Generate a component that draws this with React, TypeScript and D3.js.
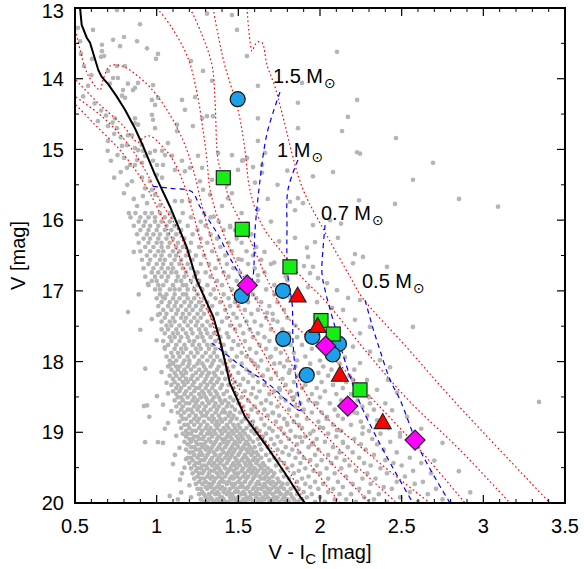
import React from "react";
import * as d3 from "d3";

// ---------- axes ----------
const xDomain = [0.5, 3.5];
const yDomain = [13, 20];
const xMajor = [0.5, 1, 1.5, 2, 2.5, 3, 3.5];
const xTickLabels = ["0.5", "1", "1.5", "2", "2.5", "3", "3.5"];
const yMajor = [13, 14, 15, 16, 17, 18, 19, 20];
const yTickLabels = ["13", "14", "15", "16", "17", "18", "19", "20"];

// ---------- field stars (gray) ----------
const upperStars = [
  [0.757,13.03],[0.898,13.23],[0.610,13.31],[0.518,13.28],[0.531,13.47],[0.733,13.45],[0.800,13.41],[0.880,13.47],[0.665,13.52],[0.776,13.54],[0.941,13.57],[1.008,13.65],[0.996,13.72],[0.665,13.61],[0.678,13.68],[0.659,13.69],[0.604,13.72],[0.537,13.65],[1.308,13.08],[1.461,13.10],[1.492,13.31],[1.553,13.68],[1.210,13.75],[0.757,13.82],[0.806,13.82],[0.555,13.82],[0.702,13.89],[0.763,13.99],[0.824,14.07],[0.867,14.13],[0.886,14.06],[0.855,14.16],[0.794,14.16],[0.788,14.24],[0.806,14.27],[0.733,13.99],[0.714,14.07],[0.971,14.30],[0.990,14.37],[1.155,14.30],[1.235,14.26],[1.008,14.27],[0.978,14.09],[1.284,13.89],[1.339,14.03],[1.278,14.56],[1.308,14.53],[1.345,14.53],[1.620,14.10],[1.620,14.56],[0.745,14.56],[0.702,14.67],[0.757,14.70],[0.867,14.56],[0.867,14.63],[0.886,14.65],[0.824,14.80],[0.849,14.80],[0.971,14.51],[0.978,14.58],[0.990,14.70],[0.702,14.88],[0.788,14.95],[0.818,14.94],[0.867,14.98],[0.886,15.01],[0.910,14.94],[0.916,15.02],[0.929,15.09],[0.959,15.05],[0.990,15.02],[1.033,15.02],[1.051,15.08],[1.039,15.22],[1.002,15.22],[0.978,15.16],[0.910,15.19],[0.880,15.15],[0.867,15.22],[0.837,15.22],[0.818,15.26],[0.849,15.45],[0.910,15.40],[0.959,15.45],[0.929,15.55],[0.971,15.57],[0.990,15.64],[0.916,15.66],[0.941,15.76],[1.020,15.79],[1.002,15.36],[1.033,15.40],[1.125,14.74],[1.125,14.65],[1.173,14.44],[1.222,14.67],[1.069,14.91],[1.094,15.09],[1.155,15.16],[1.112,15.29],[1.173,15.31],[1.204,15.26],[1.204,15.73],[1.155,15.73],[1.112,15.73],[1.265,15.45],[1.284,15.57],[1.327,15.64],[1.437,15.69],[1.461,15.62],[1.523,15.16],[1.553,15.12],[1.620,14.88],[1.663,15.05],[1.645,15.22],[1.602,15.47],[1.253,15.09],[1.278,15.26],[1.376,15.05],[1.461,15.08],[1.529,15.15],[1.590,15.25],[1.645,15.33],[1.498,15.29],[1.339,15.43],[1.431,15.50],
  [0.62,14.35],[0.66,14.45],[0.69,14.52],[0.64,14.60],[0.73,14.62],[0.78,14.83],[0.74,14.78],[0.70,15.02],[0.76,15.08],[0.80,15.12],[0.72,15.16],[0.78,15.32],[0.74,15.40],[0.82,15.50],[0.80,15.62],[0.86,15.70],[0.88,15.80],[0.58,14.10],[0.55,14.25],[0.60,13.95]
];

const rightStars = [
  [2.104,13.62],[1.890,14.06],[1.865,14.34],[2.227,14.30],[2.171,14.54],[2.135,14.74],[2.465,14.84],[1.865,14.70],[2.227,15.04],[2.245,15.06],[2.692,15.19],[1.957,15.38],[2.080,15.32],[2.569,15.43],[2.851,15.70],[3.090,15.81],[2.459,15.77],[2.239,15.72],[1.816,15.74],[1.865,15.69],[1.896,15.76],[1.847,15.86],[1.957,16.07],[2.061,16.00],[2.129,16.05],[1.969,16.31],[2.110,16.25],[1.847,16.25],[1.920,16.39],[1.927,16.52],[2.214,16.48],[2.263,16.52],[2.202,16.61],[2.410,16.66],[1.957,16.66],[1.902,16.65],
  [1.939,16.75],[1.988,16.82],[2.043,16.89],[1.927,16.95],[2.104,16.99],[2.172,17.10],[2.245,17.13],[1.982,17.16],[2.074,17.24],[2.141,17.27],[2.214,17.41],[2.245,17.60],[2.306,17.51],[2.202,17.79],[2.306,17.86],[2.367,17.98],[2.245,18.02],[2.153,17.94],[2.429,18.08],[2.416,18.26],[2.288,18.26],[2.202,18.26],[2.349,18.40],[2.472,18.44],[2.306,18.59],[2.441,18.69],[2.533,18.78],[2.227,18.73],[2.349,18.83],[2.490,19.01],[2.263,18.93],[1.676,17.31],[1.712,17.41],[1.694,17.94],[1.755,18.02],[1.816,18.12],[1.755,18.40],[1.835,18.54],[1.896,18.69],[1.982,18.59],[2.043,18.78],[2.000,18.93],[2.104,18.97],[2.141,19.15],[1.712,18.73],[1.798,18.87],[1.878,19.07],[1.957,19.15],[3.341,18.57],[2.569,17.51],
  [1.40,15.80],[1.52,15.90],[1.62,15.85],[1.70,16.02],[1.45,16.10],[1.58,16.20],[1.75,16.30],[1.66,16.45],[1.50,16.55],[1.72,16.60],[1.62,16.78],[1.80,16.85],[1.55,16.05],[1.35,15.95],[1.68,15.70],[1.74,15.50],[1.80,15.30],
  [2.85,19.55],[2.92,19.85],[2.75,19.15],[2.62,18.95],[2.70,19.40]
];

const leftStars = [
  [0.825,17.30],[0.947,16.90],[1.002,18.49],[0.922,18.63],[0.941,18.62],[0.955,18.78],[1.039,18.61],[0.929,19.14],[1.008,19.14],[1.039,19.15],[1.069,18.87],[1.039,17.09],[1.008,17.34],[1.100,18.02],[1.112,19.32],[1.155,19.58],[1.143,19.67],[1.08,19.90],[1.15,19.85],[1.20,19.75],[1.06,18.30],[1.05,17.80],[0.90,17.55],[0.93,18.10],[0.86,16.45],[0.89,17.05],
  [1.05,18.95],[1.10,19.45],[1.12,19.05],[1.07,18.45],[1.03,18.15],[1.00,17.70],[0.97,17.40],[1.13,19.95],[1.17,19.50],[1.09,18.70],[1.14,19.22],[1.21,19.92],[1.18,19.38],[1.08,18.05]
];

// rows of the dense cluster sequence: "V | colours"
const bandRows = `
19.985|1.29 1.31 1.35 1.38 1.42 1.44 1.49 1.51 1.54 1.59 1.62 1.64 1.69 1.71 1.75 1.79 1.81 1.86 1.97 2.03 2.22 2.41 2.60
19.95|1.27 1.32 1.34 1.37 1.41 1.46 1.48 1.53 1.56 1.58 1.63 1.66 1.70 1.73 1.77 1.80 1.84 1.88 2.09 2.16 2.33 2.75
19.92|1.30 1.33 1.39 1.40 1.45 1.47 1.50 1.55 1.57 1.61 1.65 1.68 1.72 1.74 1.78 1.83 1.92 2.00 2.27 2.49
19.875|1.26 1.29 1.32 1.36 1.38 1.43 1.46 1.52 1.54 1.58 1.60 1.63 1.67 1.71 1.76 1.79 1.82 1.86 1.95 2.12 2.19 2.36 2.66
19.845|1.28 1.34 1.37 1.41 1.44 1.48 1.50 1.53 1.57 1.61 1.66 1.69 1.73 1.75 1.80 1.90 2.05 2.30 2.55
19.80|1.25 1.27 1.31 1.35 1.39 1.42 1.45 1.49 1.55 1.59 1.62 1.64 1.68 1.70 1.74 1.78 1.82 1.87 1.99 2.08 2.24 2.44 2.71
19.775|1.30 1.33 1.37 1.40 1.47 1.51 1.53 1.56 1.60 1.65 1.67 1.72 1.76 1.84 1.94 2.14 2.39
19.73|1.24 1.28 1.32 1.34 1.38 1.43 1.46 1.48 1.52 1.57 1.61 1.63 1.66 1.70 1.73 1.77 1.80 1.91 2.02 2.20 2.31 2.58
19.70|1.26 1.30 1.35 1.39 1.41 1.44 1.50 1.54 1.58 1.62 1.68 1.71 1.75 1.86 1.97 2.11 2.47 2.63
19.655|1.23 1.27 1.29 1.33 1.36 1.40 1.45 1.47 1.51 1.55 1.59 1.64 1.66 1.69 1.74 1.81 1.89 2.05 2.26 2.34
19.625|1.25 1.31 1.34 1.38 1.42 1.46 1.49 1.53 1.56 1.60 1.63 1.67 1.71 1.78 1.93 2.16 2.52
19.58|1.22 1.26 1.28 1.32 1.37 1.40 1.43 1.48 1.50 1.54 1.58 1.61 1.65 1.68 1.72 1.84 2.00 2.09 2.29 2.41 2.68
19.545|1.24 1.29 1.33 1.35 1.39 1.44 1.47 1.52 1.56 1.59 1.62 1.66 1.70 1.76 1.87 1.96 2.22 2.57
19.51|1.21 1.25 1.27 1.31 1.36 1.38 1.42 1.45 1.49 1.53 1.57 1.60 1.64 1.68 1.80 1.91 2.04 2.13 2.37
19.47|1.23 1.28 1.30 1.34 1.37 1.41 1.46 1.48 1.51 1.55 1.58 1.63 1.66 1.73 1.83 1.98 2.18 2.31 2.50
19.435|1.20 1.24 1.26 1.32 1.35 1.39 1.43 1.47 1.50 1.54 1.57 1.61 1.65 1.78 1.88 2.07 2.27 2.45 2.62
19.395|1.22 1.27 1.29 1.33 1.37 1.40 1.44 1.49 1.52 1.56 1.59 1.62 1.69 1.75 1.94 2.01 2.15 2.40
19.36|1.19 1.21 1.25 1.30 1.34 1.38 1.42 1.45 1.48 1.53 1.55 1.60 1.64 1.72 1.85 1.90 2.10 2.24 2.55
19.32|1.23 1.26 1.28 1.31 1.36 1.39 1.43 1.46 1.50 1.54 1.58 1.62 1.67 1.81 1.97 2.05 2.33
19.285|1.20 1.22 1.27 1.32 1.35 1.41 1.44 1.47 1.51 1.56 1.59 1.61 1.70 1.77 1.87 2.12 2.20 2.47
19.245|1.18 1.24 1.26 1.30 1.33 1.37 1.40 1.45 1.48 1.52 1.55 1.58 1.64 1.74 1.83 1.99 2.28 2.39
19.21|1.21 1.23 1.28 1.31 1.34 1.38 1.42 1.46 1.50 1.53 1.57 1.60 1.68 1.79 1.93 2.08 2.17 2.60
19.17|1.19 1.25 1.27 1.29 1.35 1.39 1.43 1.47 1.49 1.54 1.56 1.63 1.72 1.86 1.95 2.25 2.35
19.135|1.17 1.21 1.24 1.30 1.33 1.36 1.41 1.44 1.48 1.51 1.55 1.59 1.66 1.76 1.89 2.03 2.14 2.43
19.095|1.20 1.22 1.26 1.28 1.32 1.37 1.40 1.42 1.46 1.50 1.53 1.57 1.62 1.70 1.81 1.98 2.21 2.32
19.06|1.18 1.23 1.25 1.29 1.34 1.38 1.43 1.45 1.49 1.52 1.56 1.65 1.74 1.85 1.91 2.10 2.49
19.02|1.16 1.19 1.21 1.27 1.31 1.33 1.36 1.40 1.44 1.47 1.51 1.54 1.60 1.67 1.78 1.94 2.05 2.26 2.37
18.98|1.18 1.22 1.24 1.28 1.32 1.35 1.39 1.42 1.46 1.49 1.53 1.58 1.63 1.71 1.82 1.96 2.13 2.30
18.94|1.15 1.20 1.26 1.30 1.33 1.37 1.41 1.44 1.48 1.51 1.55 1.61 1.69 1.76 1.89 2.02 2.42
18.895|1.17 1.19 1.23 1.27 1.31 1.36 1.38 1.43 1.47 1.50 1.57 1.66 1.80 1.87 2.08 2.19 2.35
18.85|1.14 1.21 1.25 1.29 1.34 1.37 1.40 1.45 1.52 1.59 1.73 1.84 1.99 2.25
18.81|1.16 1.18 1.23 1.26 1.32 1.35 1.39 1.42 1.46 1.49 1.54 1.64 1.78 1.92 2.04 2.14 2.38
18.765|1.15 1.20 1.24 1.28 1.30 1.34 1.38 1.44 1.47 1.56 1.68 1.75 1.86 2.11 2.29
18.72|1.13 1.17 1.22 1.27 1.31 1.36 1.40 1.42 1.45 1.51 1.62 1.71 1.95 2.01 2.21
18.68|1.15 1.19 1.21 1.25 1.29 1.33 1.37 1.41 1.48 1.58 1.66 1.81 1.90 2.09 2.33
18.635|1.12 1.16 1.23 1.26 1.30 1.35 1.38 1.43 1.46 1.53 1.60 1.74 1.85 2.16 2.26
18.59|1.14 1.18 1.20 1.24 1.28 1.32 1.36 1.40 1.44 1.50 1.64 1.70 1.88 1.97 2.06 2.40
18.55|1.11 1.16 1.22 1.25 1.31 1.34 1.39 1.42 1.47 1.56 1.67 1.79 1.93 2.13 2.23
18.505|1.13 1.15 1.19 1.23 1.27 1.30 1.35 1.38 1.45 1.52 1.61 1.76 1.84 2.00 2.30
18.46|1.12 1.17 1.21 1.26 1.29 1.33 1.37 1.41 1.49 1.58 1.69 1.86 1.95 2.10 2.19
18.42|1.10 1.14 1.18 1.23 1.28 1.32 1.36 1.43 1.54 1.63 1.72 1.82 2.03 2.27
18.375|1.12 1.15 1.20 1.24 1.26 1.30 1.34 1.39 1.47 1.59 1.75 1.89 1.98 2.14
18.33|1.09 1.13 1.17 1.22 1.27 1.31 1.35 1.40 1.44 1.51 1.66 1.79 1.91 2.08 2.22
18.29|1.11 1.16 1.19 1.23 1.29 1.33 1.37 1.48 1.56 1.62 1.84 2.01 2.16
18.245|1.10 1.14 1.18 1.21 1.25 1.30 1.34 1.38 1.42 1.53 1.70 1.77 1.93 2.11
18.20|1.08 1.12 1.16 1.22 1.27 1.31 1.36 1.45 1.59 1.65 1.87 2.05 2.18
18.16|1.11 1.15 1.18 1.24 1.28 1.32 1.35 1.40 1.50 1.57 1.73 1.81 1.99
18.115|1.09 1.13 1.17 1.21 1.26 1.30 1.37 1.43 1.55 1.68 1.90 2.07 2.21
18.07|1.07 1.12 1.14 1.19 1.23 1.29 1.33 1.38 1.47 1.62 1.78 1.85 2.02
18.03|1.10 1.16 1.20 1.25 1.28 1.34 1.41 1.52 1.60 1.72 1.94 2.12
17.985|1.08 1.12 1.17 1.20 1.26 1.31 1.35 1.39 1.45 1.58 1.64 1.80 1.86 2.00
17.93|1.06 1.10 1.14 1.19 1.23 1.28 1.33 1.37 1.49 1.55 1.70 1.91 2.05
17.875|1.09 1.13 1.16 1.21 1.25 1.30 1.35 1.42 1.52 1.61 1.76 1.84
17.82|1.05 1.11 1.15 1.18 1.24 1.27 1.32 1.36 1.46 1.57 1.67 1.73 1.95
17.765|1.07 1.12 1.17 1.22 1.26 1.31 1.34 1.41 1.50 1.63 1.82 1.89
17.71|1.04 1.09 1.14 1.20 1.23 1.29 1.36 1.47 1.54 1.69 1.78
17.655|1.08 1.11 1.15 1.19 1.25 1.28 1.33 1.39 1.44 1.59 1.66 1.86
17.60|1.05 1.10 1.13 1.18 1.22 1.27 1.31 1.35 1.43 1.53 1.62 1.81
17.545|1.03 1.07 1.12 1.16 1.21 1.26 1.30 1.38 1.48 1.57 1.70 1.77
17.49|1.06 1.09 1.14 1.19 1.24 1.28 1.33 1.45 1.51 1.64 1.85
17.435|1.03 1.08 1.11 1.17 1.21 1.25 1.31 1.40 1.55 1.60 1.74
17.38|1.05 1.10 1.15 1.18 1.23 1.27 1.34 1.43 1.49 1.67 1.80
17.325|1.02 1.06 1.12 1.16 1.20 1.25 1.29 1.37 1.47 1.58 1.71
17.27|1.04 1.09 1.13 1.18 1.22 1.27 1.32 1.42 1.54 1.62 1.78
17.215|1.01 1.07 1.11 1.15 1.20 1.24 1.28 1.34 1.45 1.50 1.69
17.16|1.03 1.08 1.12 1.17 1.21 1.26 1.31 1.39 1.48 1.56 1.64 1.74
17.105|1.00 1.05 1.10 1.14 1.19 1.23 1.29 1.36 1.44 1.61 1.82
17.05|1.02 1.06 1.11 1.16 1.18 1.25 1.33 1.41 1.52 1.59 1.72
16.98|0.99 1.02 1.08 1.11 1.14 1.19 1.23 1.28 1.35 1.46 1.53 1.67
16.92|0.95 1.01 1.04 1.10 1.16 1.18 1.25 1.31 1.40 1.58 1.72
16.86|0.97 1.00 1.06 1.12 1.15 1.21 1.26 1.37 1.49 1.62
16.80|0.93 0.99 1.03 1.07 1.13 1.17 1.23 1.33 1.44 1.55 1.79
16.74|0.97 1.01 1.05 1.09 1.12 1.18 1.25 1.30 1.41 1.51 1.66
16.68|0.92 0.98 1.03 1.07 1.10 1.16 1.21 1.36 1.47 1.60
16.62|0.95 1.00 1.04 1.09 1.14 1.19 1.27 1.32 1.43 1.56 1.70
16.56|0.91 0.96 1.02 1.05 1.11 1.15 1.22 1.38 1.52 1.64
16.50|0.94 0.99 1.03 1.08 1.12 1.18 1.24 1.29 1.42 1.59
16.44|0.90 0.96 1.01 1.04 1.10 1.14 1.20 1.34 1.46 1.55
16.38|0.93 0.98 1.03 1.07 1.12 1.16 1.26 1.39 1.61
16.32|0.89 0.95 1.00 1.03 1.08 1.13 1.21 1.31 1.44 1.52
16.26|0.92 0.96 1.01 1.06 1.10 1.17 1.27 1.37 1.49
16.20|0.88 0.94 0.98 1.02 1.07 1.12 1.22 1.33 1.56
16.14|0.90 0.95 1.00 1.05 1.09 1.15 1.25 1.41 1.48
16.08|0.86 0.92 0.96 1.01 1.06 1.11 1.19 1.30 1.45
16.02|0.89 0.93 0.99 1.03 1.08 1.14 1.27 1.38
15.96|0.84 0.90 0.95 0.99 1.05 1.10 1.21 1.33
15.90|0.83 0.87 0.93 0.97 1.02 1.08 1.16 1.29
`;

function parseRows(s: string): number[][] {
  return s.trim().split("\n").flatMap((ln) => {
    const [vy, xs] = ln.split("|");
    return xs.trim().split(/\s+/).map((v) => [+v, +vy]);
  });
}

// ---------- reference sequence (black) ----------
const zams = [[0.531,13.0],[0.541,13.24],[0.572,13.42],[0.592,13.49],[0.643,13.88],[0.663,13.97],[0.704,14.08],[0.755,14.25],[0.806,14.44],[0.867,14.70],[0.918,14.96],[0.990,15.36],[1.082,15.81],[1.184,16.38],[1.245,16.85],[1.347,17.37],[1.388,17.70],[1.449,18.31],[1.541,18.78],[1.674,19.20],[1.786,19.58],[1.878,19.91],[1.908,20.0]];

// ---------- isochrones (red dotted) ----------
const isoA = [[1.553,13.00],[1.584,13.61],[1.602,13.52],[1.620,13.48],[1.645,13.49],[1.676,13.81],[1.725,14.12],[1.767,14.48],[1.890,15.53],[2.031,16.17],[2.184,16.80],[2.257,17.09],[2.520,17.77],[2.814,18.54],[3.408,20.00]];
const isoB = [[1.345,13.00],[1.376,13.38],[1.418,13.82],[1.498,14.44],[1.541,15.01],[1.571,15.57],[1.645,16.07],[1.755,16.42],[1.878,16.78],[2.043,17.17],[2.276,17.84],[2.539,18.54],[2.857,19.25],[3.163,20.00]];
const isoC = [[1.204,13.00],[1.278,13.38],[1.339,13.81],[1.357,14.30],[1.376,15.15],[1.406,15.39],[1.449,15.72],[1.571,16.28],[1.694,16.92],[1.816,17.41],[2.061,17.91],[2.325,18.54],[2.612,19.25],[2.888,20.00]];
const isoD = [[1.002,13.00],[1.094,13.28],[1.192,13.71],[1.247,14.20],[1.284,14.73],[1.308,15.15],[1.327,15.57],[1.400,16.14],[1.510,16.71],[1.645,17.27],[1.798,17.91],[1.939,18.54],[2.306,19.32],[2.673,20.00]];
const isoE = [[0.503,13.31],[0.531,13.59],[0.580,13.95],[0.653,14.16],[0.671,14.02],[0.714,13.82],[0.788,13.82],[0.855,13.91],[0.959,14.12],[1.063,14.44],[1.161,14.87],[1.229,15.33],[1.284,15.86],[1.357,16.42],[1.480,17.13],[1.645,17.84],[1.835,18.54],[2.153,19.32],[2.471,20.00]];
const isoF = [[0.506,14.02],[0.653,14.37],[0.788,14.65],[0.886,14.90],[0.916,14.84],[0.959,14.81],[1.039,14.97],[1.100,15.15],[1.173,15.53],[1.222,15.90],[1.284,16.42],[1.376,16.99],[1.510,17.70],[1.694,18.40],[1.939,19.11],[2.306,20.00]];
const isoG = [[0.506,14.26],[0.653,14.51],[0.806,14.87],[0.929,15.29],[1.020,15.72],[1.131,16.14],[1.204,16.56],[1.284,17.02],[1.369,17.65],[1.510,18.40],[1.816,19.11],[2.122,20.00]];
const isoH = [[0.506,14.37],[0.622,14.65],[0.776,15.01],[0.929,15.50],[1.069,16.14],[1.204,16.85],[1.339,17.41],[1.394,17.77],[1.449,18.19],[1.504,18.54],[1.614,18.97],[1.804,19.53],[1.908,20.00]];

// ---------- evolutionary tracks (blue dashed) ----------
const track15 = [[1.755,14.19],[1.676,14.77],[1.633,15.43],[1.602,16.14],[1.584,16.85],[1.559,16.92],[1.467,16.61],[1.369,16.18],[1.265,15.81],[1.216,15.60],[1.082,15.55],[0.959,15.52]];
const track10 = [[1.865,15.15],[1.804,15.57],[1.798,16.14],[1.798,16.56],[1.810,16.92],[1.829,17.17],[1.835,17.74],[1.859,18.36],[1.878,18.69],[1.816,18.59],[1.676,18.30],[1.510,18.05],[1.369,17.79],[1.339,17.74]];
const track07 = [[2.031,16.07],[2.018,16.42],[2.012,16.75],[2.031,16.99],[2.092,17.51],[2.165,18.08],[2.245,18.59],[2.410,19.35],[2.569,20.00]];
const track05 = [[2.276,17.13],[2.318,17.48],[2.367,17.84],[2.429,18.26],[2.490,18.54],[2.612,19.25],[2.796,20.00]];

// ---------- programme stars ----------
const blueCircles = [[1.496,14.29],[1.521,17.07],[1.773,17.00],[1.775,17.68],[1.953,17.65],[2.116,17.75],[2.078,17.90],[1.919,18.19]];
const greenSquares = [[1.408,15.40],[1.524,16.13],[1.816,16.66],[2.006,17.42],[2.081,17.61],[2.245,18.40]];
const redTriangles = [[1.863,17.08],[1.986,17.51],[2.122,18.20],[2.384,18.87]];
const magentaDiamonds = [[1.555,16.92],[2.035,17.78],[2.170,18.63],[2.582,19.11]];

// ---------- mass labels ----------
const massLabels = ["1.5 M", "1 M", "0.7 M", "0.5 M"];
const massLabelAt = [[1.712,14.06],[1.737,15.11],[2.006,16.00],[2.257,16.96]];

const FONT = "'Liberation Sans', Arial, Helvetica, sans-serif";

export default function App() {
  const L = 75, R = 565, T = 8, B = 503;
  const x = d3.scaleLinear().domain(xDomain).range([L, R]);
  const y = d3.scaleLinear().domain(yDomain).range([T, B]);
  const straight = d3.line<number[]>().x((d) => x(d[0])).y((d) => y(d[1]));
  const smooth = d3.line<number[]>().x((d) => x(d[0])).y((d) => y(d[1])).curve(d3.curveCatmullRom.alpha(0.5));

  const gray = [...upperStars, ...rightStars, ...leftStars, ...parseRows(bandRows)];
  const isochrones = [isoA, isoB, isoC, isoD, isoE, isoF, isoG, isoH];
  const tracks = [track15, track10, track07, track05];

  const xMinor = d3.range(5, 36).map((v) => v / 10).filter((v) => !xMajor.some((m) => Math.abs(m - v) < 1e-6));
  const yMinor = d3.range(13.5, 20, 1);

  const sq = 7;
  const tri = (cx: number, cy: number) => `M${cx},${cy - 9.5}L${cx + 8.5},${cy + 5.5}L${cx - 8.5},${cy + 5.5}Z`;
  const dia = (cx: number, cy: number) => `M${cx},${cy - 10}L${cx + 10},${cy}L${cx},${cy + 10}L${cx - 10},${cy}Z`;

  return (
    <svg width={584} height={569} style={{ position: "absolute", left: 0, top: 0, display: "block" }} fontFamily={FONT}>
      <rect x={0} y={0} width={584} height={569} fill="#ffffff" />
      <defs>
        <clipPath id="plotclip">
          <rect x={L} y={T} width={R - L} height={B - T} />
        </clipPath>
      </defs>
      <g clipPath="url(#plotclip)">
        {gray.map((d, i) => (
          <circle key={"g" + i} cx={x(d[0])} cy={y(d[1])} r={2.35} fill="#b5b5b5" />
        ))}
        {isochrones.map((d, i) => (
          <path key={"i" + i} d={smooth(d) || ""} fill="none" stroke="#ff0000" strokeWidth={1.2} strokeDasharray="1.6,2.6" />
        ))}
        {tracks.map((d, i) => (
          <path key={"t" + i} d={smooth(d) || ""} fill="none" stroke="#0000ff" strokeWidth={1.2} strokeDasharray="5,4" />
        ))}
        <path d={straight(zams) || ""} fill="none" stroke="#000000" strokeWidth={2} />
      </g>

      {blueCircles.map((d, i) => (
        <circle key={"c" + i} cx={x(d[0])} cy={y(d[1])} r={7.5} fill="#1e9fe9" stroke="#111" strokeWidth={1.2} />
      ))}
      {greenSquares.map((d, i) => (
        <rect key={"s" + i} x={x(d[0]) - sq} y={y(d[1]) - sq} width={2 * sq} height={2 * sq} fill="#14ee14" stroke="#222" strokeWidth={1.2} />
      ))}
      {redTriangles.map((d, i) => (
        <path key={"r" + i} d={tri(x(d[0]), y(d[1]))} fill="#ff0000" stroke="#222" strokeWidth={1.1} />
      ))}
      {magentaDiamonds.map((d, i) => (
        <path key={"m" + i} d={dia(x(d[0]), y(d[1]))} fill="#ff00ff" stroke="#222" strokeWidth={1.2} />
      ))}

      {massLabels.map((t, i) => (
        <text key={"l" + i} x={x(massLabelAt[i][0])} y={y(massLabelAt[i][1])} fontSize={20} fill="#000">
          {t}
          <tspan dx={1} dy={5} fontSize={14} fontFamily="'DejaVu Sans', sans-serif">⊙</tspan>
        </text>
      ))}

      {/* frame */}
      <rect x={L} y={T} width={R - L} height={B - T} fill="none" stroke="#000" strokeWidth={2} />
      {xMajor.map((v, i) => (
        <g key={"xm" + i}>
          <line x1={x(v)} x2={x(v)} y1={B} y2={B - 8} stroke="#000" strokeWidth={1.2} />
          <line x1={x(v)} x2={x(v)} y1={T} y2={T + 8} stroke="#000" strokeWidth={1.2} />
          <text x={x(v)} y={533} textAnchor="middle" fontSize={20}>{xTickLabels[i]}</text>
        </g>
      ))}
      {xMinor.map((v, i) => (
        <g key={"xn" + i}>
          <line x1={x(v)} x2={x(v)} y1={B} y2={B - 4} stroke="#000" strokeWidth={1} />
          <line x1={x(v)} x2={x(v)} y1={T} y2={T + 4} stroke="#000" strokeWidth={1} />
        </g>
      ))}
      {yMajor.map((v, i) => (
        <g key={"ym" + i}>
          <line x1={L} x2={L + 8} y1={y(v)} y2={y(v)} stroke="#000" strokeWidth={1.2} />
          <line x1={R} x2={R - 8} y1={y(v)} y2={y(v)} stroke="#000" strokeWidth={1.2} />
          <text x={64} y={Math.max(y(v), 10.5)} dy="0.36em" textAnchor="end" fontSize={20}>{yTickLabels[i]}</text>
        </g>
      ))}
      {yMinor.map((v, i) => (
        <g key={"yn" + i}>
          <line x1={L} x2={L + 4} y1={y(v)} y2={y(v)} stroke="#000" strokeWidth={1} />
          <line x1={R} x2={R - 4} y1={y(v)} y2={y(v)} stroke="#000" strokeWidth={1} />
        </g>
      ))}

      <text x={(L + R) / 2} y={559} textAnchor="middle" fontSize={20}>
        V - I<tspan dy={5} fontSize={15}>C</tspan><tspan dy={-5}> [mag]</tspan>
      </text>
      <text transform={`translate(25,${(T + B) / 2}) rotate(-90)`} textAnchor="middle" fontSize={20}>V [mag]</text>
    </svg>
  );
}
